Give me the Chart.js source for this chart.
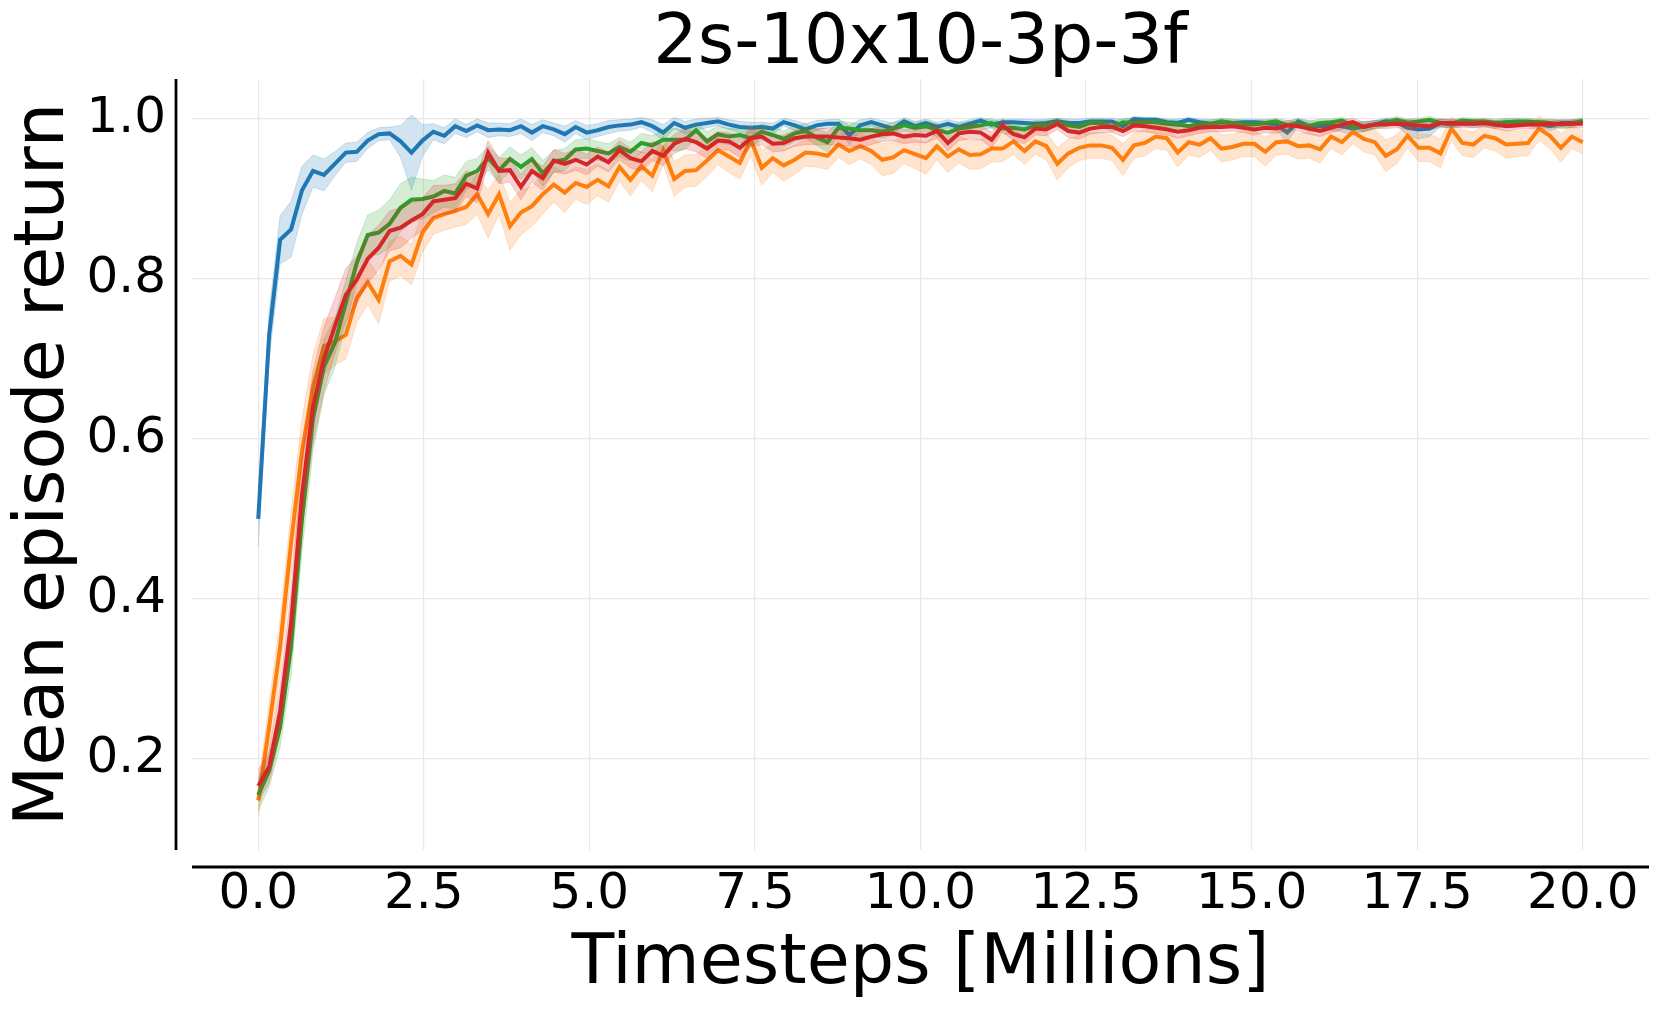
<!DOCTYPE html>
<html>
<head>
<meta charset="utf-8">
<script src="https://cdn.jsdelivr.net/npm/chart.js@4.4.1/dist/chart.umd.min.js"></script>
<style>
  html, body { margin: 0; padding: 0; background: #fff; }
  canvas { display: block; }
</style>
</head>
<body>
<canvas id="returnChart" width="1661" height="1012"></canvas>
<script>
// --- data: 122 evaluations over 20M steps ---
const blue = [
  0.500, 0.730, 0.849, 0.862, 0.911, 0.935, 0.930, 0.944, 0.958, 0.959,
  0.973, 0.981, 0.982, 0.972, 0.958, 0.973, 0.984, 0.979, 0.991, 0.985,
  0.992, 0.986, 0.987, 0.986, 0.991, 0.983, 0.991, 0.987, 0.981, 0.990,
  0.983, 0.986, 0.990, 0.992, 0.993, 0.996, 0.991, 0.983, 0.995, 0.989,
  0.993, 0.995, 0.997, 0.993, 0.990, 0.989, 0.990, 0.988, 0.996, 0.992,
  0.987, 0.992, 0.994, 0.994, 0.980, 0.992, 0.996, 0.992, 0.988, 0.997,
  0.991, 0.995, 0.990, 0.994, 0.990, 0.994, 0.998, 0.993, 0.996, 0.996,
  0.995, 0.994, 0.995, 0.997, 0.995, 0.995, 0.997, 0.997, 0.997, 0.991,
  1.000, 0.999, 0.999, 0.996, 0.995, 0.999, 0.996, 0.994, 0.996, 0.995,
  0.996, 0.996, 0.995, 0.993, 0.983, 0.997, 0.991, 0.991, 0.992, 0.991,
  0.988, 0.991, 0.993, 0.997, 0.996, 0.989, 0.987, 0.988, 0.995, 0.993,
  0.995, 0.994, 0.995, 0.993, 0.996, 0.996, 0.995, 0.994, 0.991, 0.995,
  0.995, 0.997,
];
const orange = [
  0.148, 0.240, 0.340, 0.470, 0.585, 0.665, 0.716, 0.722, 0.730, 0.776,
  0.796, 0.774, 0.822, 0.829, 0.818, 0.858, 0.876, 0.881, 0.885, 0.890,
  0.906, 0.881, 0.906, 0.866, 0.883, 0.891, 0.906, 0.918, 0.908, 0.920,
  0.915, 0.924, 0.916, 0.940, 0.924, 0.941, 0.929, 0.961, 0.925, 0.935,
  0.936, 0.948, 0.961, 0.953, 0.945, 0.974, 0.939, 0.951, 0.942, 0.949,
  0.958, 0.957, 0.954, 0.968, 0.960, 0.966, 0.960, 0.949, 0.952, 0.961,
  0.956, 0.951, 0.966, 0.953, 0.962, 0.955, 0.956, 0.963, 0.963, 0.972,
  0.960, 0.972, 0.966, 0.944, 0.957, 0.964, 0.967, 0.967, 0.964, 0.949,
  0.967, 0.970, 0.978, 0.976, 0.958, 0.971, 0.968, 0.976, 0.963, 0.965,
  0.969, 0.969, 0.959, 0.971, 0.972, 0.966, 0.967, 0.962, 0.978, 0.971,
  0.984, 0.975, 0.971, 0.954, 0.962, 0.979, 0.964, 0.964, 0.957, 0.988,
  0.970, 0.968, 0.979, 0.976, 0.968, 0.969, 0.970, 0.988, 0.979, 0.964,
  0.978, 0.971,
];
const green = [
  0.155, 0.185, 0.240, 0.340, 0.500, 0.625, 0.690, 0.720, 0.770, 0.820,
  0.855, 0.858, 0.869, 0.889, 0.899, 0.900, 0.903, 0.910, 0.907, 0.929,
  0.935, 0.951, 0.936, 0.950, 0.940, 0.950, 0.932, 0.947, 0.949, 0.962,
  0.963, 0.960, 0.957, 0.965, 0.959, 0.970, 0.967, 0.974, 0.974, 0.974,
  0.986, 0.972, 0.981, 0.978, 0.980, 0.976, 0.984, 0.980, 0.975, 0.982,
  0.985, 0.977, 0.971, 0.989, 0.988, 0.986, 0.986, 0.984, 0.988, 0.992,
  0.989, 0.991, 0.986, 0.983, 0.988, 0.990, 0.992, 0.995, 0.988, 0.989,
  0.987, 0.992, 0.992, 0.995, 0.992, 0.990, 0.995, 0.995, 0.990, 0.996,
  0.995, 0.996, 0.996, 0.994, 0.993, 0.991, 0.993, 0.994, 0.997, 0.995,
  0.993, 0.993, 0.995, 0.997, 0.992, 0.995, 0.991, 0.995, 0.996, 0.998,
  0.991, 0.990, 0.993, 0.995, 0.999, 0.995, 0.997, 0.999, 0.995, 0.994,
  0.998, 0.997, 0.997, 0.995, 0.996, 0.997, 0.997, 0.996, 0.995, 0.993,
  0.994, 0.998,
];
const red = [
  0.166, 0.190, 0.260, 0.370, 0.530, 0.640, 0.700, 0.741, 0.780, 0.799,
  0.825, 0.839, 0.860, 0.864, 0.873, 0.881, 0.897, 0.899, 0.901, 0.919,
  0.913, 0.958, 0.935, 0.936, 0.915, 0.935, 0.926, 0.948, 0.944, 0.949,
  0.943, 0.953, 0.946, 0.961, 0.951, 0.947, 0.960, 0.954, 0.969, 0.975,
  0.971, 0.963, 0.973, 0.972, 0.964, 0.976, 0.978, 0.969, 0.970, 0.976,
  0.978, 0.978, 0.978, 0.977, 0.976, 0.974, 0.978, 0.981, 0.982, 0.978,
  0.980, 0.979, 0.985, 0.970, 0.982, 0.984, 0.983, 0.974, 0.992, 0.981,
  0.977, 0.988, 0.987, 0.994, 0.985, 0.983, 0.988, 0.990, 0.990, 0.985,
  0.992, 0.991, 0.989, 0.987, 0.984, 0.986, 0.989, 0.990, 0.990, 0.991,
  0.989, 0.987, 0.989, 0.988, 0.992, 0.991, 0.988, 0.985, 0.989, 0.993,
  0.996, 0.990, 0.993, 0.993, 0.994, 0.993, 0.992, 0.991, 0.995, 0.995,
  0.994, 0.994, 0.995, 0.993, 0.991, 0.992, 0.993, 0.993, 0.994, 0.994,
  0.994, 0.994,
];

// half-width of the shaded band around each curve
const blueSpread = [
  0.034, 0.030, 0.030, 0.035, 0.030, 0.020, 0.020, 0.015, 0.012, 0.012,
  0.010, 0.008, 0.008, 0.020, 0.047, 0.020, 0.010, 0.010, 0.009, 0.008,
  0.008, 0.009, 0.008, 0.008, 0.009, 0.010, 0.008, 0.008, 0.010, 0.008,
  0.009, 0.008, 0.008, 0.007, 0.007, 0.006, 0.008, 0.010, 0.007, 0.008,
  0.007, 0.006, 0.005, 0.006, 0.007, 0.007, 0.006, 0.007, 0.005, 0.006,
  0.007, 0.006, 0.005, 0.006, 0.012, 0.007, 0.005, 0.006, 0.007, 0.005,
  0.006, 0.005, 0.006, 0.005, 0.006, 0.005, 0.004, 0.005, 0.004, 0.004,
  0.005, 0.005, 0.005, 0.004, 0.005, 0.005, 0.004, 0.004, 0.004, 0.008,
  0.003, 0.003, 0.003, 0.004, 0.005, 0.003, 0.004, 0.005, 0.004, 0.004,
  0.004, 0.004, 0.004, 0.006, 0.013, 0.004, 0.007, 0.006, 0.006, 0.007,
  0.008, 0.006, 0.005, 0.004, 0.004, 0.010, 0.012, 0.010, 0.005, 0.005,
  0.004, 0.005, 0.004, 0.005, 0.004, 0.004, 0.004, 0.005, 0.006, 0.004,
  0.004, 0.003,
];
const orangeSpread = [
  0.020, 0.030, 0.035, 0.040, 0.040, 0.040, 0.035, 0.030, 0.030, 0.030,
  0.028, 0.030, 0.025, 0.025, 0.025, 0.025, 0.020, 0.020, 0.020, 0.022,
  0.025, 0.030, 0.025, 0.030, 0.028, 0.025, 0.025, 0.022, 0.025, 0.020,
  0.022, 0.020, 0.020, 0.018, 0.020, 0.018, 0.020, 0.018, 0.022, 0.020,
  0.020, 0.020, 0.018, 0.020, 0.020, 0.020, 0.022, 0.018, 0.020, 0.018,
  0.017, 0.017, 0.017, 0.016, 0.017, 0.016, 0.017, 0.020, 0.020, 0.017,
  0.018, 0.020, 0.017, 0.020, 0.017, 0.018, 0.018, 0.017, 0.016, 0.016,
  0.017, 0.016, 0.017, 0.020, 0.018, 0.016, 0.016, 0.016, 0.016, 0.020,
  0.016, 0.016, 0.015, 0.015, 0.018, 0.016, 0.016, 0.015, 0.017, 0.016,
  0.016, 0.016, 0.018, 0.016, 0.016, 0.016, 0.016, 0.017, 0.015, 0.016,
  0.015, 0.016, 0.016, 0.020, 0.018, 0.015, 0.017, 0.017, 0.018, 0.015,
  0.016, 0.016, 0.015, 0.016, 0.017, 0.016, 0.016, 0.015, 0.016, 0.018,
  0.015, 0.014,
];
const greenSpread = [
  0.020, 0.020, 0.025, 0.035, 0.040, 0.040, 0.035, 0.030, 0.028, 0.025,
  0.025, 0.028, 0.030, 0.030, 0.028, 0.025, 0.020, 0.020, 0.020, 0.018,
  0.016, 0.015, 0.016, 0.015, 0.015, 0.014, 0.016, 0.014, 0.014, 0.012,
  0.012, 0.012, 0.012, 0.012, 0.012, 0.012, 0.012, 0.012, 0.014, 0.012,
  0.010, 0.012, 0.010, 0.010, 0.010, 0.010, 0.010, 0.010, 0.010, 0.010,
  0.009, 0.010, 0.012, 0.008, 0.008, 0.008, 0.008, 0.008, 0.008, 0.007,
  0.007, 0.007, 0.008, 0.008, 0.007, 0.007, 0.006, 0.006, 0.007, 0.007,
  0.007, 0.006, 0.006, 0.005, 0.006, 0.006, 0.005, 0.005, 0.006, 0.005,
  0.005, 0.005, 0.005, 0.005, 0.005, 0.006, 0.005, 0.005, 0.004, 0.005,
  0.005, 0.005, 0.004, 0.004, 0.006, 0.005, 0.006, 0.005, 0.004, 0.004,
  0.006, 0.006, 0.005, 0.005, 0.004, 0.005, 0.004, 0.004, 0.005, 0.005,
  0.004, 0.004, 0.004, 0.005, 0.005, 0.004, 0.004, 0.004, 0.005, 0.005,
  0.005, 0.004,
];
const redSpread = [
  0.020, 0.020, 0.030, 0.040, 0.045, 0.045, 0.040, 0.035, 0.033, 0.030,
  0.030, 0.028, 0.025, 0.025, 0.022, 0.020, 0.020, 0.018, 0.018, 0.016,
  0.018, 0.015, 0.016, 0.015, 0.016, 0.014, 0.015, 0.014, 0.013, 0.013,
  0.013, 0.012, 0.012, 0.012, 0.012, 0.012, 0.012, 0.012, 0.012, 0.012,
  0.012, 0.012, 0.011, 0.011, 0.012, 0.011, 0.010, 0.010, 0.010, 0.010,
  0.010, 0.010, 0.010, 0.010, 0.010, 0.010, 0.010, 0.009, 0.009, 0.009,
  0.009, 0.009, 0.009, 0.010, 0.009, 0.009, 0.009, 0.010, 0.008, 0.008,
  0.008, 0.008, 0.008, 0.007, 0.008, 0.008, 0.007, 0.007, 0.007, 0.007,
  0.007, 0.007, 0.007, 0.007, 0.008, 0.007, 0.007, 0.006, 0.006, 0.006,
  0.006, 0.007, 0.006, 0.006, 0.006, 0.006, 0.007, 0.007, 0.006, 0.006,
  0.005, 0.006, 0.005, 0.005, 0.005, 0.006, 0.006, 0.005, 0.005, 0.005,
  0.005, 0.005, 0.005, 0.005, 0.006, 0.005, 0.005, 0.005, 0.005, 0.005,
  0.005, 0.005,
];

const xTicks = [0, 2.5, 5, 7.5, 10, 12.5, 15, 17.5, 20];
const yTicks = [0.2, 0.4, 0.6, 0.8, 1.0];

// timesteps in millions, evenly spaced evaluations from 0 to 20M
const timesteps = blue.map((_, i) => (i * 20) / (blue.length - 1));

Chart.defaults.font.family = "'DejaVu Sans', sans-serif";
Chart.defaults.color = "#000";

function toPoints(values) {
  return values.map((v, i) => ({ x: timesteps[i], y: v }));
}

// one line + its band (upper fills down to lower); later series sit on top
function seriesDatasets(values, spread, color, shade, order) {
  const upper = values.map((v, i) => v + spread[i]);
  const lower = values.map((v, i) => v - spread[i]);
  const band = {
    pointRadius: 0,
    borderWidth: 1,
    borderColor: shade,
    backgroundColor: shade,
    tension: 0,
  };
  return [
    { ...band, data: toPoints(upper), fill: "+1", order: order + 1 },
    { ...band, data: toPoints(lower), fill: false, order: order + 1 },
    {
      data: toPoints(values),
      borderColor: color,
      borderWidth: 4,
      pointRadius: 0,
      tension: 0,
      fill: false,
      order: order,
    },
  ];
}

// seaborn-like detached spines
const offsetSpines = {
  id: "offsetSpines",
  afterDraw(chart) {
    const { ctx, chartArea } = chart;
    ctx.save();
    ctx.strokeStyle = "#000";
    ctx.lineWidth = 2.8;
    ctx.beginPath();
    ctx.moveTo(chartArea.left - 16, chartArea.top);
    ctx.lineTo(chartArea.left - 16, chartArea.bottom);
    ctx.moveTo(chartArea.left, chartArea.bottom + 17);
    ctx.lineTo(chartArea.right, chartArea.bottom + 17);
    ctx.stroke();
    ctx.restore();
  },
};

const ctx = document.getElementById("returnChart").getContext("2d");

new Chart(ctx, {
  type: "line",
  data: {
    datasets: [
      ...seriesDatasets(blue, blueSpread, "#1f77b4", "rgba(31,119,180,0.2)", 7),
      ...seriesDatasets(orange, orangeSpread, "#ff7f0e", "rgba(255,127,14,0.2)", 5),
      ...seriesDatasets(green, greenSpread, "#2ca02c", "rgba(44,160,44,0.2)", 3),
      ...seriesDatasets(red, redSpread, "#d62728", "rgba(214,39,40,0.2)", 1),
    ],
  },
  options: {
    responsive: false,
    animation: false,
    layout: { padding: { top: 0, right: 12, bottom: 0, left: 0 } },
    plugins: {
      legend: { display: false },
      tooltip: { enabled: false },
      title: {
        display: true,
        fullSize: false,
        text: "2s-10x10-3p-3f",
        color: "#000",
        font: { size: 70, weight: "normal", lineHeight: 1 },
        padding: { top: 10, bottom: -1 },
      },
    },
    scales: {
      x: {
        type: "linear",
        min: -1,
        max: 21,
        afterBuildTicks: (axis) => {
          axis.ticks = xTicks.map((v) => ({ value: v }));
        },
        afterFit: (axis) => {
          axis.height = 162;
        },
        border: { display: false },
        grid: { color: "#e8e8e8", lineWidth: 1.2, drawTicks: false },
        ticks: {
          padding: 15,
          maxRotation: 0,
          autoSkip: false,
          font: { size: 50 },
          callback: (v) => v.toFixed(1),
        },
        title: {
          display: true,
          text: "Timesteps [Millions]",
          font: { size: 70, lineHeight: 1 },
          padding: { top: 0, bottom: 12 },
        },
      },
      y: {
        type: "linear",
        min: 0.086,
        max: 1.05,
        afterBuildTicks: (axis) => {
          axis.ticks = yTicks.map((v) => ({ value: v }));
        },
        afterFit: (axis) => {
          axis.width = 192;
        },
        border: { display: false },
        grid: { color: "#e8e8e8", lineWidth: 1.2, drawTicks: false },
        ticks: {
          padding: 26,
          font: { size: 50 },
          callback: (v) => v.toFixed(1),
        },
        title: {
          display: true,
          text: "Mean episode return",
          font: { size: 70, lineHeight: 1 },
          padding: { top: 10, bottom: 0 },
        },
      },
    },
  },
  plugins: [offsetSpines],
});
</script>
</body>
</html>
